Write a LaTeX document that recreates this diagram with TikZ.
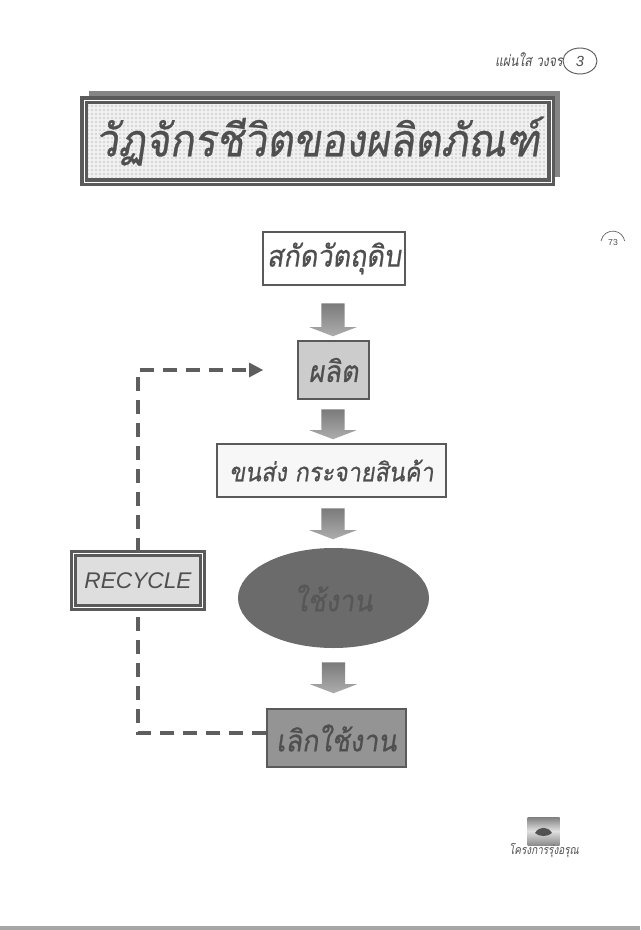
\documentclass[tikz,border=0pt]{standalone}
\usepackage{fontspec}
\setsansfont{Liberation Sans}
\newfontfamily\thaifont[Script=Thai,FakeSlant=0.15,FakeStretch=0.9,FakeBold=0.6]{Loma}
\newfontfamily\thaithin[Script=Thai,FakeSlant=0.18,FakeStretch=0.8]{Loma}
\usetikzlibrary{shapes.geometric,shapes.arrows,arrows.meta,patterns,positioning}
\definecolor{ink}{HTML}{4F4F4F}
\definecolor{frame}{HTML}{5A5A5A}
\definecolor{dashc}{HTML}{5E5E5E}
\newcommand{\pxu}{0.75pt}
\tikzset{
  x=0.75pt,y=-0.75pt,
  flowbox/.style={rectangle,draw=frame,line width=1.5pt,inner sep=0pt,text=ink,font=\thaifont\fontsize{22.5}{26}\selectfont},
  blockarrow/.style={single arrow,shape border rotate=270,inner xsep=8.6pt,inner ysep=0pt,minimum width=47*\pxu,single arrow head extend=12*\pxu,single arrow tip angle=138,draw=none,top color=black!52,bottom color=black!32},
  feedback/.style={draw=dashc,line width=2.3pt,dash pattern=on 10.5pt off 6.75pt}
}
\begin{document}
\begin{tikzpicture}
\useasboundingbox (0,0) rectangle (640,930);
\fill[white] (0,0) rectangle (640,930);
\fill[black!35] (0,926) rectangle (640,930);
% header
\node[anchor=east,inner sep=0pt,text=ink,font=\thaithin\fontsize{11.5}{13}\selectfont] (sheet) at (563,60) {แผ่นใส วงจร};
\node[ellipse,draw=frame,line width=0.7pt,minimum width=34*\pxu,minimum height=26*\pxu,inner sep=0pt,text=ink,font=\sffamily\itshape\fontsize{11}{12}\selectfont] (num) at (580,61) {3};
\draw[frame,line width=0.5pt] (601,241) arc[start angle=190,end angle=350,x radius=12,y radius=12];
\node[inner sep=0pt,text=ink,font=\sffamily\fontsize{6.5}{8}\selectfont] (page) at (613,243) {73};
% title
\fill[black!48] (89,91) rectangle (560,177);
\node[rectangle,draw=frame,line width=2.6pt,double=white,double distance=0.6pt,minimum width=467*\pxu,minimum height=82*\pxu,inner sep=0pt,
  preaction={fill=black!6},pattern=dots,pattern color=black!45,text=ink,font=\thaifont\fontsize{34}{38}\selectfont] (title) at (317.5,141) {\raisebox{-4pt}{วัฏจักรชีวิตของผลิตภัณฑ์}};
% flow
\node[flowbox,fill=white,minimum width=142*\pxu,minimum height=53*\pxu] (raw) at (334,258.5) {\raisebox{-2pt}{สกัดวัตถุดิบ}};
\node[flowbox,fill=black!20,minimum width=71*\pxu,minimum height=58*\pxu] (make) at (333.5,370) {\raisebox{-1pt}{ผลิต}};
\node[flowbox,fill=black!3,minimum width=229*\pxu,minimum height=53*\pxu,font=\thaifont\fontsize{19.5}{24}\selectfont] (ship) at (331.5,470.5) {\raisebox{-1pt}{ขนส่ง กระจายสินค้า}};
\node[ellipse,fill=black!58,inner sep=0pt,minimum width=191*\pxu,minimum height=100*\pxu,text=black!66,font=\thaifont\fontsize{22.5}{26}\selectfont] (use) at (333.5,598) {ใช้งาน};
\node[flowbox,fill=black!42,minimum width=139*\pxu,minimum height=58*\pxu] (stop) at (336.5,738) {\raisebox{-1pt}{เลิกใช้งาน}};
\node[rectangle,draw=frame,line width=2.2pt,double=white,double distance=0.5pt,fill=black!13,minimum width=129*\pxu,minimum height=54*\pxu,inner sep=0pt,text=ink,font=\sffamily\itshape\fontsize{17}{18}\selectfont] (rec) at (138,580.5) {RECYCLE};
% block arrows
\node[blockarrow,minimum height=33*\pxu] (a1) at (333,317.5) {};
\node[blockarrow,minimum height=30*\pxu] (a2) at (333,422) {};
\node[blockarrow,minimum height=31*\pxu] (a3) at (333,521.5) {};
\node[blockarrow,minimum height=31*\pxu] (a4) at (333.5,675.5) {};
% feedback
\coordinate (back) at (263,370);
\draw[feedback] (rec.north) -- (rec.north |- back) -- (249,370);
\fill[dashc] (back) -- (249,362.5) -- (249,377.5) -- cycle;
\draw[feedback] ([yshift=3.75pt]stop.west) -| (rec.south);
% logo
\node[rectangle,minimum width=32*\pxu,minimum height=28*\pxu,inner sep=0pt,top color=black!50,bottom color=black!45,middle color=black!12] (logo) at (543.5,831) {};
\fill[black!68] (535,833) .. controls (539,826) and (548,826) .. (552,833) .. controls (548,837) and (539,837) .. (535,833) -- cycle;
\node[inner sep=0pt,text=ink,font=\thaithin\fontsize{9.3}{10}\selectfont] (prog) at (544,851) {โครงการรุ่งอรุณ};
\end{tikzpicture}
\end{document}
